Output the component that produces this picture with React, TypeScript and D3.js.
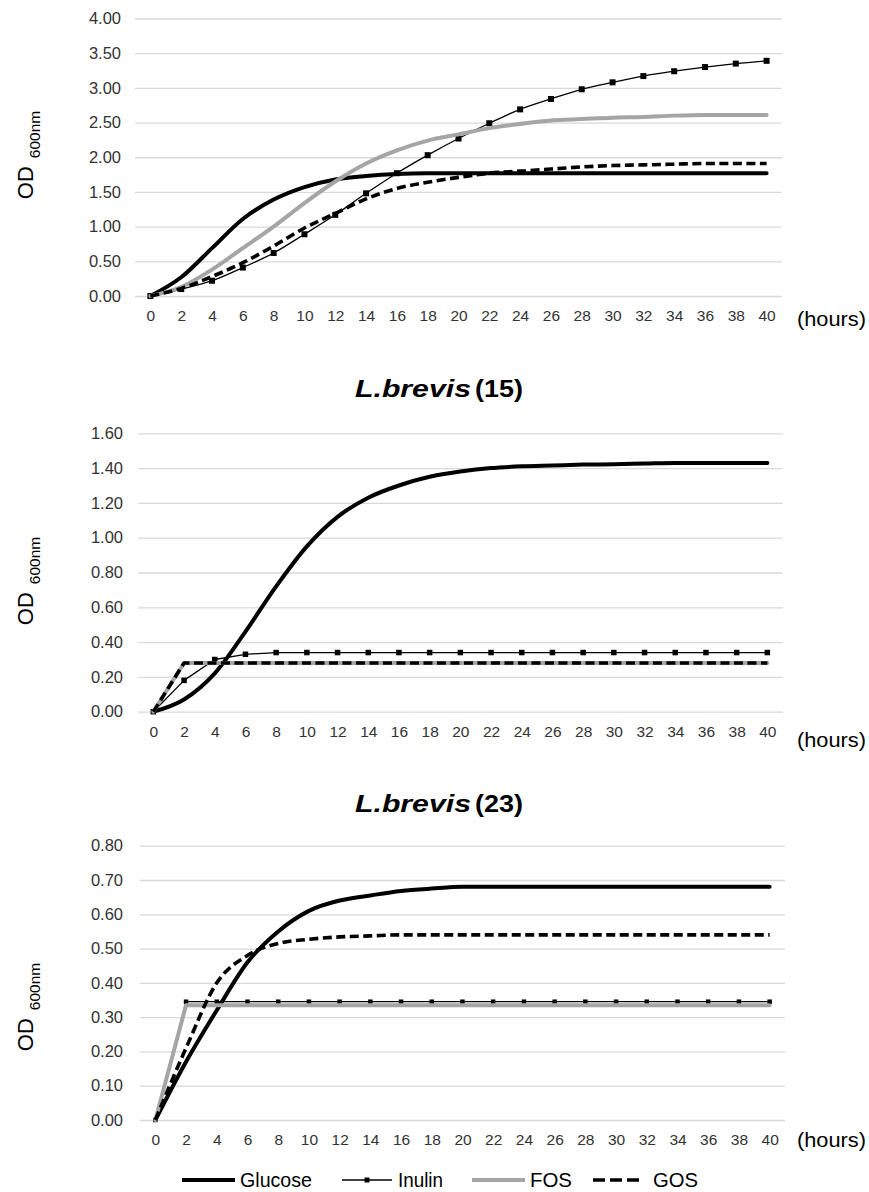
import React, { useEffect, useRef } from "react";
import * as d3 from "d3";

// sampling times (hours)
const hours = [0, 2, 4, 6, 8, 10, 12, 14, 16, 18, 20, 22, 24, 26, 28, 30, 32, 34, 36, 38, 40];
const seriesNames = ["Glucose", "Inulin", "FOS", "GOS"];
const speciesName = "L.brevis";
const panelTitles = ["", "(15)", "(23)"];

// top panel (title cut off in the source)
const topGlucose = [0, 0.27, 0.69, 1.11, 1.39, 1.57, 1.68, 1.73, 1.76, 1.77, 1.77, 1.77, 1.77, 1.77, 1.77, 1.77, 1.77, 1.77, 1.77, 1.77, 1.77];
const topInulin = [0, 0.1, 0.22, 0.41, 0.62, 0.89, 1.17, 1.48, 1.77, 2.03, 2.27, 2.49, 2.69, 2.84, 2.98, 3.08, 3.17, 3.24, 3.3, 3.35, 3.39];
const topFos = [0, 0.13, 0.38, 0.69, 1.0, 1.34, 1.65, 1.91, 2.1, 2.24, 2.33, 2.42, 2.48, 2.53, 2.55, 2.57, 2.58, 2.6, 2.61, 2.61, 2.61];
const topGos = [0, 0.11, 0.28, 0.48, 0.72, 0.98, 1.19, 1.4, 1.55, 1.64, 1.71, 1.77, 1.8, 1.83, 1.86, 1.88, 1.89, 1.9, 1.91, 1.91, 1.91];
const topTicks = [0, 0.5, 1, 1.5, 2, 2.5, 3, 3.5, 4];

// L.brevis (15)
const b15Glucose = [0, 0.07, 0.22, 0.46, 0.72, 0.95, 1.12, 1.23, 1.3, 1.35, 1.38, 1.4, 1.41, 1.415, 1.42, 1.422, 1.426, 1.43, 1.43, 1.43, 1.43];
const b15Inulin = [0, 0.18, 0.3, 0.33, 0.34, 0.34, 0.34, 0.34, 0.34, 0.34, 0.34, 0.34, 0.34, 0.34, 0.34, 0.34, 0.34, 0.34, 0.34, 0.34, 0.34];
const b15Fos = [0, 0.28, 0.28, 0.28, 0.28, 0.28, 0.28, 0.28, 0.28, 0.28, 0.28, 0.28, 0.28, 0.28, 0.28, 0.28, 0.28, 0.28, 0.28, 0.28, 0.28];
const b15Gos = [0, 0.28, 0.28, 0.28, 0.28, 0.28, 0.28, 0.28, 0.28, 0.28, 0.28, 0.28, 0.28, 0.28, 0.28, 0.28, 0.28, 0.28, 0.28, 0.28, 0.28];
const b15Ticks = [0, 0.2, 0.4, 0.6, 0.8, 1.0, 1.2, 1.4, 1.6];

// L.brevis (23)
const b23Glucose = [0, 0.17, 0.32, 0.46, 0.55, 0.61, 0.64, 0.655, 0.668, 0.675, 0.68, 0.68, 0.68, 0.68, 0.68, 0.68, 0.68, 0.68, 0.68, 0.68, 0.68];
const b23Inulin = [0, 0.345, 0.345, 0.345, 0.345, 0.345, 0.345, 0.345, 0.345, 0.345, 0.345, 0.345, 0.345, 0.345, 0.345, 0.345, 0.345, 0.345, 0.345, 0.345, 0.345];
const b23Fos = [0, 0.335, 0.335, 0.335, 0.335, 0.335, 0.335, 0.335, 0.335, 0.335, 0.335, 0.335, 0.335, 0.335, 0.335, 0.335, 0.335, 0.335, 0.335, 0.335, 0.335];
const b23Gos = [0, 0.21, 0.4, 0.48, 0.515, 0.527, 0.534, 0.537, 0.54, 0.54, 0.54, 0.54, 0.54, 0.54, 0.54, 0.54, 0.54, 0.54, 0.54, 0.54, 0.54];
const b23Ticks = [0, 0.1, 0.2, 0.3, 0.4, 0.5, 0.6, 0.7, 0.8];

const panels = [
  { series: [topGlucose, topInulin, topFos, topGos], ticks: topTicks, smooth: [true, true, true, true] },
  { series: [b15Glucose, b15Inulin, b15Fos, b15Gos], ticks: b15Ticks, smooth: [true, false, false, false] },
  { series: [b23Glucose, b23Inulin, b23Fos, b23Gos], ticks: b23Ticks, smooth: [true, false, false, true] },
];

// plot boxes on the page
const layout = [
  { left: 135, right: 782, top: 18.5, bottom: 296, labelRight: 121, odY: 155, hoursY: 326, titleY: 0, marker: 6 },
  { left: 138, right: 782.7, top: 433.3, bottom: 711.7, labelRight: 123, odY: 581, hoursY: 747, titleY: 397, marker: 5.5 },
  { left: 140, right: 785, top: 845.7, bottom: 1120, labelRight: 123, odY: 1007, hoursY: 1147, titleY: 812, marker: 4.5 },
];

const styles = [
  { color: "#000", width: 4, dash: null },
  { color: "#000", width: 1.3, dash: null },
  { color: "#a5a5a5", width: 4, dash: null },
  { color: "#000", width: 3.6, dash: "9,4.5" },
];

const FONT = "'Liberation Sans', Arial, Helvetica, sans-serif";

const App = () => {
  const svgRef = useRef<SVGSVGElement>(null);

  useEffect(() => {
    const svg = d3.select(svgRef.current);
    svg.selectAll("*").remove();

    panels.forEach((p, i) => {
      const box = layout[i];
      const x = d3.scalePoint<number>().domain(hours).range([box.left, box.right]).padding(0.5);
      const y = d3.scaleLinear().domain([0, d3.max(p.ticks) as number]).range([box.bottom, box.top]);
      const g = svg.append("g");

      // gridlines + y labels
      const yAxis = g
        .append("g")
        .attr("transform", `translate(${box.left},0)`)
        .call(
          d3
            .axisLeft(y)
            .tickValues(p.ticks)
            .tickFormat(d3.format(".2f"))
            .tickSize(-(box.right - box.left))
            .tickPadding(box.left - box.labelRight)
        );
      yAxis.select(".domain").remove();
      yAxis.selectAll("line").attr("stroke", "#d9d9d9").attr("stroke-width", 1.3);
      yAxis
        .selectAll("text")
        .style("font-family", FONT)
        .style("font-size", "16.5px")
        .attr("fill", "#333");

      // x labels
      const xAxis = g
        .append("g")
        .attr("transform", `translate(0,${box.bottom})`)
        .call(d3.axisBottom(x).tickSize(0).tickPadding(14.3));
      xAxis.select(".domain").remove();
      xAxis
        .selectAll("text")
        .style("font-family", FONT)
        .style("font-size", "15.5px")
        .attr("fill", "#333");

      g.append("text")
        .attr("x", 797)
        .attr("y", box.hoursY)
        .attr("textLength", 69)
        .attr("lengthAdjust", "spacingAndGlyphs")
        .style("font-family", FONT)
        .style("font-size", "21px")
        .attr("fill", "#000")
        .text("(hours)");

      // OD600nm label
      const od = g
        .append("text")
        .attr("transform", `translate(33,${box.odY}) rotate(-90)`)
        .attr("text-anchor", "middle")
        .style("font-family", FONT)
        .attr("fill", "#000");
      od.append("tspan").style("font-size", "22px").text("OD");
      od.append("tspan").attr("dx", 8).attr("dy", 7).style("font-size", "15.5px").text("600nm");

      // title
      if (panelTitles[i]) {
        g.append("text")
          .attr("x", 355)
          .attr("y", box.titleY)
          .attr("textLength", 116)
          .attr("lengthAdjust", "spacingAndGlyphs")
          .style("font-family", FONT)
          .style("font-size", "24px")
          .style("font-weight", "bold")
          .style("font-style", "italic")
          .text(speciesName);
        g.append("text")
          .attr("x", 475)
          .attr("y", box.titleY)
          .attr("textLength", 48)
          .attr("lengthAdjust", "spacingAndGlyphs")
          .style("font-family", FONT)
          .style("font-size", "24px")
          .style("font-weight", "bold")
          .text(panelTitles[i]);
      }

      // series
      seriesNames.forEach((name, k) => {
        const vals = p.series[k];
        const st = styles[k];
        const line = d3
          .line<number>()
          .x((_, j) => x(hours[j]) as number)
          .y((d) => y(d))
          .curve(p.smooth[k] ? d3.curveMonotoneX : d3.curveLinear);
        const path = g
          .append("path")
          .attr("d", line(vals))
          .attr("fill", "none")
          .attr("stroke", st.color)
          .attr("stroke-width", st.width)
          .attr("stroke-linejoin", "round")
          .attr("stroke-linecap", st.dash ? "butt" : "round");
        if (st.dash) path.attr("stroke-dasharray", st.dash);

        if (name === "Inulin") {
          const s = box.marker;
          g.selectAll(`.mk${i}`)
            .data(vals)
            .enter()
            .append("rect")
            .attr("x", (_, j) => (x(hours[j]) as number) - s / 2)
            .attr("y", (d) => y(d) - s / 2)
            .attr("width", s)
            .attr("height", s)
            .attr("fill", "#000");
        }
      });
    });

    // legend
    const legendX = [
      { x1: 182, x2: 235, tx: 240, tl: 72 },
      { x1: 342, x2: 392, tx: 398, tl: 45 },
      { x1: 472, x2: 525, tx: 530, tl: 42 },
      { x1: 593, x2: 643, tx: 653, tl: 45 },
    ];
    const ly = 1180;
    const lg = svg.append("g");
    seriesNames.forEach((name, k) => {
      const st = styles[k];
      const pos = legendX[k];
      const l = lg
        .append("line")
        .attr("x1", pos.x1)
        .attr("x2", pos.x2)
        .attr("y1", ly)
        .attr("y2", ly)
        .attr("stroke", st.color)
        .attr("stroke-width", st.width);
      if (st.dash) l.attr("stroke-dasharray", "12,5");
      if (name === "Inulin") {
        lg.append("rect")
          .attr("x", (pos.x1 + pos.x2) / 2 - 2.5)
          .attr("y", ly - 2.5)
          .attr("width", 5)
          .attr("height", 5)
          .attr("fill", "#000");
      }
      lg.append("text")
        .attr("x", pos.tx)
        .attr("y", ly + 6.5)
        .attr("textLength", pos.tl)
        .attr("lengthAdjust", "spacingAndGlyphs")
        .style("font-family", FONT)
        .style("font-size", "20px")
        .attr("fill", "#000")
        .text(name);
    });
  }, []);

  return (
    <div style={{ position: "absolute", left: 0, top: 0, background: "#fff" }}>
      <svg ref={svgRef} width={869} height={1192} style={{ display: "block" }}></svg>
    </div>
  );
};

export default App;
